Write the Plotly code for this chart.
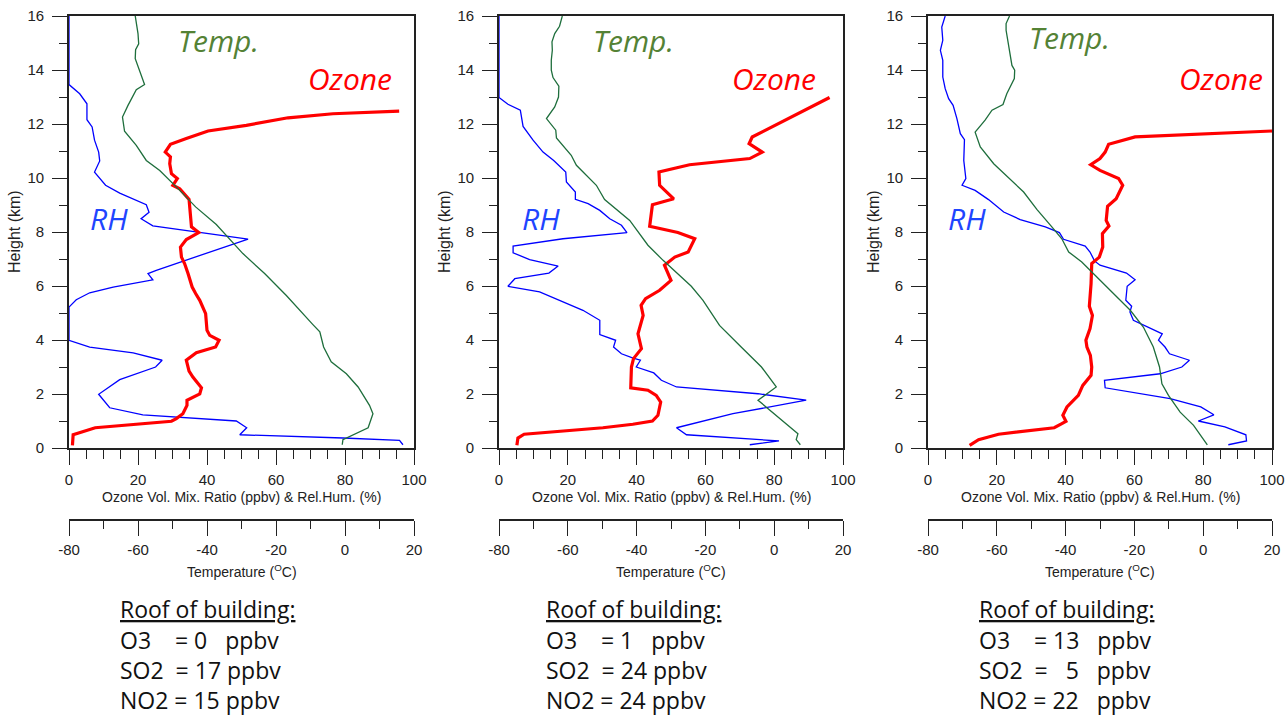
import plotly.graph_objects as go

# ---------------- data ----------------
# Panel 1
p1_o3_x = [1.0, 1.2, 7.6, 29.7, 31.1, 33.0, 34.2, 34.2, 37.9, 38.4, 35.9, 34.8, 34.0, 36.9, 42.5, 43.5, 40.8, 40.0, 39.6,
           37.9, 36.7, 35.7, 34.5, 33.5, 32.6, 32.3, 34.0, 37.6, 35.5, 35.0, 34.8, 32.1, 30.1, 31.4, 29.7, 29.2, 29.4,
           27.9, 29.4, 34.0, 40.3, 51.4, 63.5, 76.5, 95.7]
p1_o3_h = [0.10, 0.49, 0.75, 0.99, 1.09, 1.27, 1.58, 1.77, 2.00, 2.23, 2.63, 2.85, 3.25, 3.53, 3.74, 3.99, 4.17, 4.36, 4.98,
           5.47, 5.72, 5.96, 6.46, 6.83, 7.07, 7.44, 7.72, 7.98, 8.19, 8.93, 9.21, 9.60, 9.73, 9.98, 10.16, 10.53, 10.78,
           10.96, 11.25, 11.46, 11.74, 11.95, 12.23, 12.38, 12.48]
p1_rh_x = [96.8, 95.8, 79.4, 49.5, 51.5, 48.5, 21.4, 11.8, 8.6, 14.7, 25.1, 27.0, 18.6, 6.0, 0.0, 0.0, 2.1, 6.0, 12.8,
           24.3, 22.9, 25.3, 51.9, 24.3, 20.9, 23.2, 22.4, 14.7, 10.6, 7.4, 8.9, 8.6, 7.4, 6.7, 5.2, 5.2, 3.1, 0.0, 0.0]
p1_rh_h = [0.12, 0.28, 0.37, 0.49, 0.75, 1.00, 1.23, 1.49, 1.99, 2.53, 3.00, 3.25, 3.52, 3.74, 3.99, 5.22, 5.49, 5.75, 5.96,
           6.23, 6.46, 6.58, 7.74, 8.23, 8.49, 8.73, 9.01, 9.44, 9.73, 10.22, 10.63, 10.96, 11.40, 11.89, 12.16, 12.75,
           13.12, 13.46, 16.0]
p1_t_x = [-0.8, -0.6, 6.7, 8.1, 7.1, 3.8, 0.4, -4.0, -6.2, -7.3, -9.3, -17.0, -23.3, -29.6, -37.3, -43.3, -47.9, -53.7,
          -57.6, -60.5, -63.9, -64.5, -62.9, -60.5, -58.1, -59.7, -60.8, -60.7, -59.8, -60.0, -60.5, -60.8]
p1_t_h = [0.12, 0.31, 0.75, 1.27, 1.58, 2.26, 2.75, 3.19, 3.74, 4.30, 4.57, 5.65, 6.46, 7.20, 8.28, 8.93, 9.54, 10.28,
          10.65, 11.21, 11.73, 12.26, 12.69, 13.27, 13.46, 13.99, 14.42, 14.75, 14.97, 15.35, 15.84, 16.0]

# Panel 2
p2_o3_x = [5.2, 5.5, 7.3, 30.2, 38.9, 44.6, 46.2, 47.0, 45.7, 43.3, 38.3, 38.5, 39.1, 41.4, 40.4, 41.9, 41.3, 42.6, 46.7,
           50.0, 48.1, 51.1, 55.0, 56.9, 52.0, 43.8, 44.6, 50.8, 46.7, 46.5, 55.4, 72.9, 76.5, 72.7, 73.6, 96.1]
p2_o3_h = [0.10, 0.37, 0.51, 0.75, 0.88, 1.00, 1.21, 1.70, 1.95, 2.14, 2.23, 3.00, 3.31, 3.68, 4.23, 4.91, 5.28, 5.53, 5.84,
           6.21, 6.77, 7.07, 7.26, 7.75, 7.98, 8.21, 9.01, 9.23, 9.73, 10.22, 10.49, 10.72, 10.96, 11.27, 11.52, 12.98]
p2_rh_x = [72.9, 81.4, 54.5, 51.6, 68.0, 89.3, 75.3, 51.6, 47.2, 45.0, 39.9, 41.1, 39.0, 35.6, 33.3, 33.9, 29.3, 29.3,
           24.4, 17.6, 11.8, 2.6, 4.6, 14.5, 17.2, 8.9, 4.1, 4.1, 18.6, 37.2, 35.6, 32.2, 29.3, 25.9, 22.2, 22.2, 19.6,
           19.4, 15.9, 12.8, 9.9, 7.0, 6.2, 2.6, 0.0, 0.0]
p2_rh_h = [0.12, 0.26, 0.49, 0.75, 1.27, 1.77, 2.01, 2.26, 2.51, 2.78, 3.00, 3.25, 3.33, 3.49, 3.74, 3.99, 4.20, 4.73,
           5.10, 5.47, 5.78, 5.99, 6.27, 6.48, 6.74, 6.98, 7.23, 7.48, 7.75, 7.98, 8.25, 8.49, 8.80, 9.05, 9.21, 9.48, 9.85,
           10.22, 10.65, 10.96, 11.40, 11.91, 12.51, 12.73, 12.98, 16.0]
p2_t_x = [7.6, 6.4, 6.9, 1.1, -4.7, 0.6, -3.7, -9.6, -15.9, -20.7, -24.1, -32.3, -36.7, -42.0, -45.9, -49.3, -51.7,
          -57.5, -59.0, -63.3, -63.5, -66.2, -63.8, -62.7, -62.6, -64.3, -64.8, -64.8, -64.5, -64.6, -63.8, -62.4, -61.6]
p2_t_h = [0.12, 0.31, 0.53, 1.15, 1.77, 2.26, 3.00, 3.74, 4.54, 5.47, 5.99, 6.95, 7.51, 8.43, 8.83, 9.20, 9.73, 10.47,
          10.84, 11.48, 11.77, 12.20, 12.63, 13.00, 13.40, 13.72, 13.99, 14.36, 14.73, 15.04, 15.35, 15.62, 16.0]

# Panel 3
p3_o3_x = [12.1, 14.7, 20.5, 36.7, 38.9, 40.1, 39.2, 40.4, 43.7, 45.0, 47.4, 47.6, 47.2, 46.2, 45.9, 47.1, 47.8, 46.9,
           47.4, 47.6, 49.8, 50.8, 50.7, 52.6, 51.8, 52.2, 54.7, 56.6, 55.4, 50.0, 47.3, 50.0, 51.5, 52.5, 60.2, 100.0]
p3_o3_h = [0.10, 0.31, 0.51, 0.75, 0.90, 0.99, 1.21, 1.52, 1.95, 2.32, 2.69, 3.00, 3.43, 3.74, 3.99, 4.42, 4.91, 5.25,
           6.09, 6.83, 7.07, 7.44, 7.94, 8.22, 8.43, 8.95, 9.23, 9.73, 9.98, 10.28, 10.49, 10.72, 10.96, 11.25, 11.52, 11.74]
p3_rh_x = [87.3, 92.6, 92.4, 86.3, 78.6, 83.1, 79.3, 70.4, 51.5, 51.3, 67.5, 73.8, 76.0, 70.2, 68.9, 67.0, 68.1, 59.7,
           58.7, 59.2, 57.5, 57.9, 60.2, 57.7, 50.0, 48.4, 47.1, 45.7, 39.4, 38.2, 34.1, 26.8, 22.0, 17.6, 13.7, 9.9, 11.0,
           10.4, 10.6, 9.4, 8.4, 7.3, 6.0, 5.0, 4.3, 4.3, 3.6, 4.3, 4.0, 5.0]
p3_rh_h = [0.12, 0.26, 0.49, 0.78, 1.00, 1.23, 1.52, 1.83, 2.23, 2.51, 2.75, 3.00, 3.25, 3.49, 3.74, 3.99, 4.23, 4.73,
           5.04, 5.25, 5.47, 5.99, 6.23, 6.48, 6.77, 6.93, 7.26, 7.48, 7.73, 7.98, 8.19, 8.46, 8.74, 9.20, 9.54, 9.73, 9.98,
           10.65, 11.42, 11.64, 12.20, 12.69, 12.94, 13.31, 13.74, 14.36, 14.73, 15.10, 15.59, 16.0]
p3_t_x = [1.2, -2.8, -6.7, -10.1, -12.0, -12.7, -14.5, -17.4, -21.2, -28.0, -35.3, -39.1, -41.1, -44.0, -48.3, -52.2,
          -55.6, -60.9, -64.8, -66.3, -63.4, -61.4, -58.2, -57.1, -54.9, -54.8, -55.6, -56.1, -56.8, -57.3, -57.3, -56.3]
p3_t_h = [0.12, 0.84, 1.33, 1.95, 2.38, 3.00, 3.74, 4.48, 5.10, 5.96, 6.89, 7.26, 7.75, 8.19, 8.83, 9.48, 9.89, 10.53,
          11.15, 11.70, 12.14, 12.51, 12.72, 13.12, 13.68, 13.99, 14.17, 14.54, 14.97, 15.47, 15.72, 16.0]

# Tick labels
temp_tickvals = [-80, -60, -40, -20, 0, 20]
temp_ticktext = ["-80", "-60", "-40", "-20", "0", "20"]

# Curve labels: (text, x in ppbv/%, height km) per panel
label_temp = ["Temp.", "Temp.", "Temp."]
label_temp_pos = [(43.2, 15.11), (39.1, 15.11), (41.2, 15.19)]
label_ozone = ["Ozone", "Ozone", "Ozone"]
label_ozone_pos = [(81.4, 13.70), (80.0, 13.70), (85.2, 13.70)]
label_rh = ["RH", "RH", "RH"]
label_rh_pos = [(11.6, 8.50), (12.2, 8.50), (11.3, 8.50)]

# Roof-of-building notes
NB = "\u00a0"
roof_title = "Roof of building:"
roof_lines = [
    ["O3" + NB * 4 + "=" + NB + "0" + NB * 3 + "ppbv", "SO2" + NB * 2 + "=" + NB + "17" + NB + "ppbv", "NO2" + NB + "=" + NB + "15" + NB + "ppbv"],
    ["O3" + NB * 4 + "=" + NB + "1" + NB * 3 + "ppbv", "SO2" + NB * 2 + "=" + NB + "24" + NB + "ppbv", "NO2" + NB + "=" + NB + "24" + NB + "ppbv"],
    ["O3" + NB * 4 + "=" + NB + "13" + NB * 3 + "ppbv", "SO2" + NB * 2 + "=" + NB * 3 + "5" + NB * 3 + "ppbv", "NO2" + NB + "=" + NB + "22" + NB * 3 + "ppbv"],
]

ozone_axis_title = "Ozone Vol. Mix. Ratio (ppbv) & Rel.Hum. (%)"
temp_axis_title = "Temperature (<sup>O</sup>C)"
height_axis_title = "Height (km)"

# ---------------- layout geometry (figure pixels) ----------------
W, H = 1288, 717
panel_px = [(69, 414), (499, 843), (928, 1272)]
plot_top, plot_bot = 16, 448
temp_axis_y = 520
ozone_title_y = 497
temp_title_y = 571
height_title_dx = 54
notes_x = [118, 544, 977]
notes_y = [609, 640, 670, 700]

RED = "#ff0000"
BLUE = "#0000ff"
GREEN = "#1e6e3c"
TXT_GREEN = "#548235"
TXT_BLUE = "#1f45ff"
AXC = "#222222"
TICKFONT = dict(family="Arial, Liberation Sans, sans-serif", size=15, color=AXC)

panels = [
    (p1_o3_x, p1_o3_h, p1_rh_x, p1_rh_h, p1_t_x, p1_t_h),
    (p2_o3_x, p2_o3_h, p2_rh_x, p2_rh_h, p2_t_x, p2_t_h),
    (p3_o3_x, p3_o3_h, p3_rh_x, p3_rh_h, p3_t_x, p3_t_h),
]

fig = go.Figure()
layout = dict(
    template="none",
    width=W, height=H, margin=dict(l=0, r=0, t=0, b=0, pad=0, autoexpand=False),
    paper_bgcolor="white", plot_bgcolor="white", showlegend=False,
)
annotations = []
ydom = [(H - plot_bot) / H, (H - plot_top) / H]

for i, (ox, oh, rx, rh, tx, th) in enumerate(panels):
    xa = "x" if i == 0 else f"x{i+1}"
    ya = "y" if i == 0 else f"y{i+1}"
    ta = f"x{i+4}"
    fig.add_trace(go.Scatter(x=tx, y=th, xaxis=ta, yaxis=ya, mode="lines",
                             line=dict(color=GREEN, width=1.3)))
    fig.add_trace(go.Scatter(x=rx, y=rh, xaxis=xa, yaxis=ya, mode="lines",
                             line=dict(color=BLUE, width=1.3)))
    fig.add_trace(go.Scatter(x=ox, y=oh, xaxis=xa, yaxis=ya, mode="lines",
                             line=dict(color=RED, width=3.2)))

    x0, x1 = panel_px[i]
    xname = "xaxis" if i == 0 else f"xaxis{i+1}"
    yname = "yaxis" if i == 0 else f"yaxis{i+1}"
    layout[xname] = dict(
        domain=[x0 / W, x1 / W], anchor=ya, range=[0, 100], dtick=20, tick0=0,
        showline=True, linecolor=AXC, linewidth=1.6, mirror=True, automargin=False,
        ticks="outside", ticklen=15, tickwidth=1.3, tickcolor=AXC,
        minor=dict(dtick=5, ticks="outside", ticklen=9, tickwidth=1.3, tickcolor=AXC),
        showgrid=False, zeroline=False, tickfont=TICKFONT, ticklabelstandoff=2,
    )
    layout[yname] = dict(
        domain=ydom, anchor=xa, range=[0, 16], dtick=2, tick0=0,
        showline=True, linecolor=AXC, linewidth=1.6, mirror=True, automargin=False,
        ticks="outside", ticklen=15, tickwidth=1.3, tickcolor=AXC,
        minor=dict(dtick=1, ticks="outside", ticklen=8, tickwidth=1.3, tickcolor=AXC),
        showgrid=False, zeroline=False, tickfont=TICKFONT, ticklabelstandoff=5,
    )
    layout[f"xaxis{i+4}"] = dict(
        overlaying=xa, anchor="free", position=(H - temp_axis_y) / H, side="bottom",
        range=[-80, 20], tickmode="array", tickvals=temp_tickvals, ticktext=temp_ticktext,
        showline=True, linecolor=AXC, linewidth=1.6, automargin=False,
        ticks="outside", ticklen=15, tickwidth=1.3, tickcolor=AXC,
        minor=dict(dtick=10, tick0=-80, ticks="outside", ticklen=8, tickwidth=1.3, tickcolor=AXC),
        showgrid=False, zeroline=False, tickfont=TICKFONT, ticklabelstandoff=1,
    )

    # axis titles
    xc = (x0 + x1) / 2 / W
    annotations.append(dict(text=ozone_axis_title, xref="paper", yref="paper", x=xc, y=(H - ozone_title_y) / H,
                            showarrow=False, xanchor="center", yanchor="middle",
                            font=dict(family="Arial, Liberation Sans, sans-serif", size=14, color=AXC)))
    annotations.append(dict(text=temp_axis_title, xref="paper", yref="paper", x=xc, y=(H - temp_title_y) / H,
                            showarrow=False, xanchor="center", yanchor="middle",
                            font=dict(family="Arial, Liberation Sans, sans-serif", size=14, color=AXC)))
    annotations.append(dict(text=height_axis_title, xref="paper", yref="paper", x=(x0 - height_title_dx) / W,
                            y=(H - (plot_top + plot_bot) / 2) / H, textangle=-90,
                            showarrow=False, xanchor="center", yanchor="middle",
                            font=dict(family="Arial, Liberation Sans, sans-serif", size=16, color=AXC)))

    # curve labels
    lblfont = "Open Sans, sans-serif"
    annotations.append(dict(text=f"<i>{label_temp[i]}</i>", xref=xa, yref=ya,
                            x=label_temp_pos[i][0], y=label_temp_pos[i][1], showarrow=False,
                            font=dict(family=lblfont, size=30, color=TXT_GREEN)))
    annotations.append(dict(text=f"<i>{label_ozone[i]}</i>", xref=xa, yref=ya,
                            x=label_ozone_pos[i][0], y=label_ozone_pos[i][1], showarrow=False,
                            font=dict(family=lblfont, size=30, color=RED)))
    annotations.append(dict(text=f"<i>{label_rh[i]}</i>", xref=xa, yref=ya,
                            x=label_rh_pos[i][0], y=label_rh_pos[i][1], showarrow=False,
                            font=dict(family=lblfont, size=30, color=TXT_BLUE)))

    # roof-of-building notes
    notefont = dict(family="Open Sans, sans-serif", size=23, color="#111111")
    annotations.append(dict(text=f"<u>{roof_title}</u>", xref="paper", yref="paper",
                            x=notes_x[i] / W, y=(H - notes_y[0]) / H, showarrow=False,
                            xanchor="left", yanchor="middle", font=notefont))
    for k, line in enumerate(roof_lines[i]):
        annotations.append(dict(text=line, xref="paper", yref="paper",
                                x=notes_x[i] / W, y=(H - notes_y[k + 1]) / H, showarrow=False,
                                xanchor="left", yanchor="middle", font=notefont))

layout["annotations"] = annotations
fig.update_layout(**layout)
fig.write_html("out.html")
